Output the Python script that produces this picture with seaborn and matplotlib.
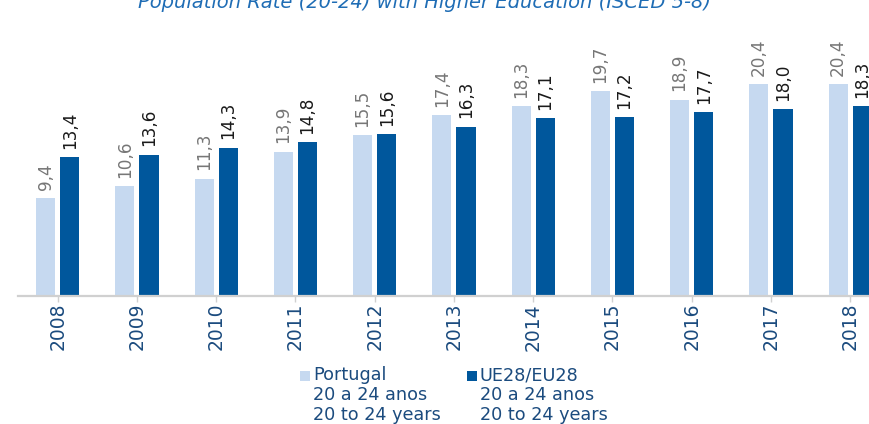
import matplotlib
matplotlib.use("Agg")
import matplotlib.pyplot as plt
from matplotlib.patches import Rectangle
import seaborn as sns
import pandas as pd

years = ["2008", "2009", "2010", "2011", "2012", "2013", "2014", "2015", "2016", "2017", "2018"]
portugal = [9.4, 10.6, 11.3, 13.9, 15.5, 17.4, 18.3, 19.7, 18.9, 20.4, 20.4]
eu28 = [13.4, 13.6, 14.3, 14.8, 15.6, 16.3, 17.1, 17.2, 17.7, 18.0, 18.3]
series = ["Portugal", "UE28/EU28"]
legend_labels = ["Portugal\n20 a 24 anos\n20 to 24 years",
                 "UE28/EU28\n20 a 24 anos\n20 to 24 years"]
title = "Population Rate (20-24) with Higher Education (ISCED 5-8)"

c_pt = "#c6d9f0"
c_eu = "#00579c"
c_text = "#1b4b7e"

df = pd.DataFrame({
    "year": years * 2,
    "value": portugal + eu28,
    "series": [series[0]] * len(years) + [series[1]] * len(years),
})

sns.set_theme(style="white")
plt.rcParams["font.family"] = ["DejaVu Sans"]

fig = plt.figure(figsize=(8.7, 4.24), dpi=100)
ax = fig.add_axes([18 / 870, 1 - 296 / 424, 852 / 870, 270 / 424])

sns.barplot(data=df, x="year", y="value", hue="series", hue_order=series,
            palette=[c_pt, c_eu], width=0.61, gap=0.21, ax=ax,
            legend=False, saturation=1, edgecolor="none")

label_colors = ["#767676", "#1a1a1a"]
for cont, col in zip(ax.containers, label_colors):
    ax.bar_label(cont, labels=[f"{v:.1f}".replace(".", ",") for v in cont.datavalues],
                 rotation=90, padding=6, fontsize=12.2, color=col)

ax.set_xlim(-0.5, 10.25)
ax.set_ylim(0, 26)
ax.set_xlabel("")
ax.set_ylabel("")
ax.set_yticks([])
for s in ["left", "top", "right"]:
    ax.spines[s].set_visible(False)
ax.spines["bottom"].set_color("#d0d0d0")
ax.spines["bottom"].set_linewidth(1.6)
ax.tick_params(axis="x", bottom=True, length=4, width=1, color="#d0d0d0",
               labelsize=13.5, labelcolor=c_text, rotation=90, pad=1)

# title (partially cut at top like the reference)
fig.text(425 / 870, 1 - 8 / 424, title, ha="center", va="baseline",
         fontsize=14, style="italic", color="#1f6db5")

# legend drawn manually
for xm, lab, col in [(300, legend_labels[0], c_pt), (467, legend_labels[1], c_eu)]:
    fig.patches.append(Rectangle((xm / 870, 1 - 381 / 424), 10 / 870, 10 / 424,
                                 transform=fig.transFigure, facecolor=col,
                                 edgecolor="none"))
    fig.text((xm + 13) / 870, 1 - 366 / 424, lab, ha="left", va="top",
             fontsize=12.7, color=c_text, linespacing=1.15)

fig.savefig("out.png", dpi=100)
